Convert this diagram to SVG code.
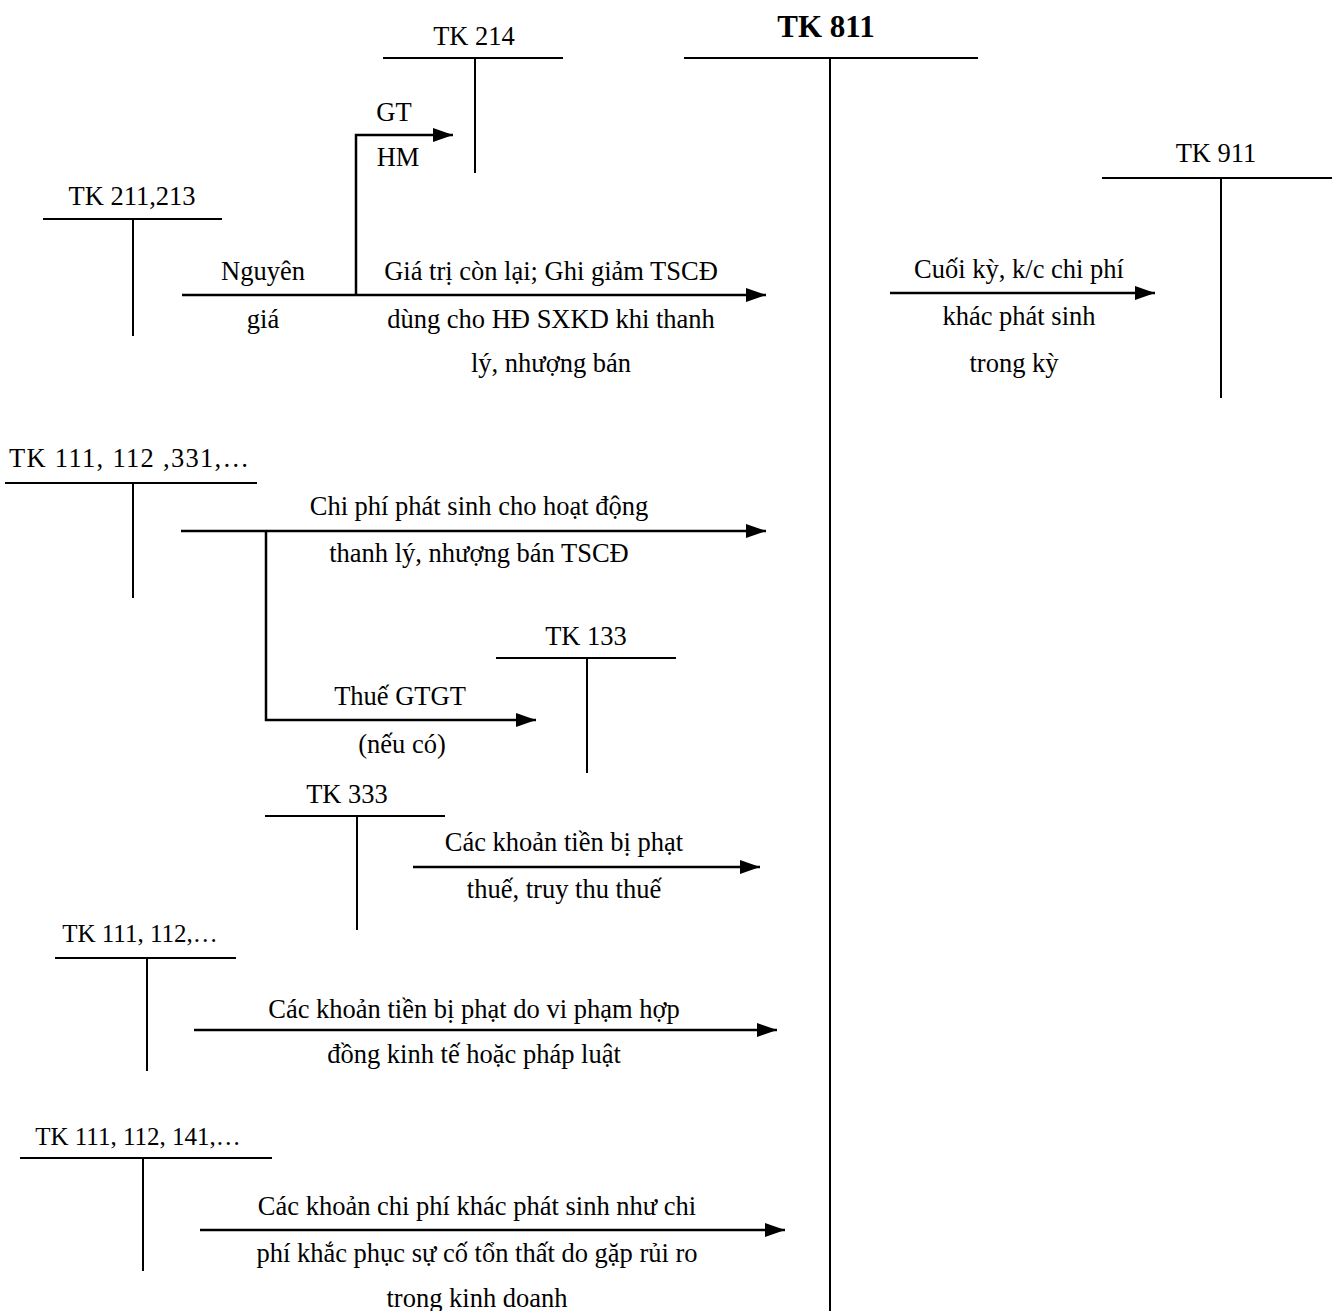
<svg xmlns="http://www.w3.org/2000/svg" width="1337" height="1311" viewBox="0 0 1337 1311">
  <defs>
    <marker id="arrow" markerUnits="userSpaceOnUse" markerWidth="22" markerHeight="16" refX="20" refY="8" orient="auto">
      <path d="M0,1 L20,8 L0,15 z" fill="#000"/>
    </marker>
    <style>
      text { font-family: "Liberation Serif", "Times New Roman", serif; font-size: 26.5px; fill: #000; text-anchor: middle; }
      .title { font-size: 31px; font-weight: bold; }
      .multi { font-size: 25px; }
      .acct line { stroke: #000; stroke-width: 2; }
      .conn line, .conn path { stroke: #000; stroke-width: 2.5; fill: none; }
      .arr { marker-end: url(#arrow); }
    </style>
  </defs>
  <rect width="1337" height="1311" fill="#fff"/>

  <!-- T-accounts -->
  <g id="tk811" class="acct">
    <text class="title" x="826" y="37">TK 811</text>
    <line x1="684" y1="58" x2="978" y2="58"/>
    <line x1="830" y1="58" x2="830" y2="1311"/>
  </g>
  <g id="tk214" class="acct">
    <text x="474" y="45">TK 214</text>
    <line x1="383" y1="58" x2="563" y2="58"/>
    <line x1="475" y1="58" x2="475" y2="173"/>
  </g>
  <g id="tk911" class="acct">
    <text x="1216" y="162">TK 911</text>
    <line x1="1102" y1="178" x2="1332" y2="178"/>
    <line x1="1221" y1="178" x2="1221" y2="398"/>
  </g>
  <g id="tk211" class="acct">
    <text x="132" y="205">TK 211,213</text>
    <line x1="43" y1="219" x2="222" y2="219"/>
    <line x1="133" y1="219" x2="133" y2="336"/>
  </g>
  <g id="tk111a" class="acct">
    <text x="129" y="467" textLength="240" lengthAdjust="spacing">TK 111, 112 ,331,…</text>
    <line x1="5" y1="483" x2="257" y2="483"/>
    <line x1="133" y1="483" x2="133" y2="598"/>
  </g>
  <g id="tk133" class="acct">
    <text x="586" y="645">TK 133</text>
    <line x1="496" y1="658" x2="676" y2="658"/>
    <line x1="587" y1="658" x2="587" y2="773"/>
  </g>
  <g id="tk333" class="acct">
    <text x="347" y="803">TK 333</text>
    <line x1="265" y1="816" x2="445" y2="816"/>
    <line x1="357" y1="816" x2="357" y2="930"/>
  </g>
  <g id="tk111b" class="acct">
    <text class="multi" x="140" y="942">TK 111, 112,…</text>
    <line x1="55" y1="958" x2="236" y2="958"/>
    <line x1="147" y1="958" x2="147" y2="1071"/>
  </g>
  <g id="tk111c" class="acct">
    <text class="multi" x="138" y="1145">TK 111, 112, 141,…</text>
    <line x1="20" y1="1158" x2="272" y2="1158"/>
    <line x1="143" y1="1158" x2="143" y2="1271"/>
  </g>

  <!-- Entries -->
  <g id="connectors" class="conn">
    <line class="arr" x1="182" y1="295" x2="766" y2="295"/>
    <path class="arr" d="M356,295 V135 H453"/>
    <line class="arr" x1="890" y1="293" x2="1155" y2="293"/>
    <line class="arr" x1="181" y1="531" x2="766" y2="531"/>
    <path class="arr" d="M266,531 V720 H536"/>
    <line class="arr" x1="413" y1="867" x2="760" y2="867"/>
    <line class="arr" x1="194" y1="1030" x2="777" y2="1030"/>
    <line class="arr" x1="200" y1="1230" x2="785" y2="1230"/>
  </g>

  <!-- Entry labels -->
  <g id="labels">
    <text x="394" y="121">GT</text>
    <text x="398" y="166">HM</text>
    <text x="263" y="280">Nguyên</text>
    <text x="263" y="328">giá</text>
    <text x="551" y="280">Giá trị còn lại; Ghi giảm TSCĐ</text>
    <text x="551" y="328">dùng cho HĐ SXKD khi thanh</text>
    <text x="551" y="372">lý, nhượng bán</text>
    <text x="1019" y="278">Cuối kỳ, k/c chi phí</text>
    <text x="1019" y="325">khác phát sinh</text>
    <text x="1014" y="372">trong kỳ</text>
    <text x="479" y="515">Chi phí phát sinh cho hoạt động</text>
    <text x="479" y="562">thanh lý, nhượng bán TSCĐ</text>
    <text x="400" y="705">Thuế GTGT</text>
    <text x="402" y="753">(nếu có)</text>
    <text x="564" y="851">Các khoản tiền bị phạt</text>
    <text x="564" y="898">thuế, truy thu thuế</text>
    <text x="474" y="1018">Các khoản tiền bị phạt do vi phạm hợp</text>
    <text x="474" y="1063">đồng kinh tế hoặc pháp luật</text>
    <text x="477" y="1215">Các khoản chi phí khác phát sinh như chi</text>
    <text x="477" y="1262">phí khắc phục sự cố tổn thất do gặp rủi ro</text>
    <text x="477" y="1307">trong kinh doanh</text>
  </g>
</svg>
